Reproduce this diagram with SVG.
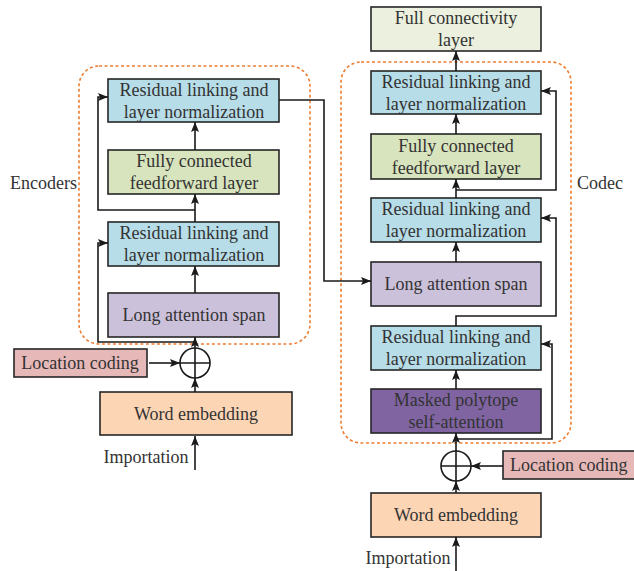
<svg xmlns="http://www.w3.org/2000/svg" width="634" height="571" viewBox="0 0 634 571">
<style>
.box{stroke:#262626;stroke-width:1.6}
.blue{fill:#b7dde8}.green{fill:#d7e4bd}.lav{fill:#ccc1da}.purple{fill:#8064a2}.peach{fill:#fcd5b5}.pink{fill:#e6b9b8}.pale{fill:#ebf1de}
text{font-family:"Liberation Serif","Times New Roman",serif;font-size:18px;fill:#333;text-anchor:middle}
.lbl{text-anchor:start}
.dash{fill:none;stroke:#ed7d31;stroke-width:1.6;stroke-dasharray:3,2.5}
.c{fill:none;stroke:#1a1a1a;stroke-width:1.6}
</style>
<defs>
<marker id="ah" markerUnits="userSpaceOnUse" markerWidth="10" markerHeight="10" viewBox="0 0 10 10" refX="10" refY="5" orient="auto">
<path d="M0,1 L10,5 L0,9 L2,5 Z" fill="#1a1a1a"/>
</marker>
</defs>

<rect class="dash" x="79" y="66" width="231" height="278" rx="20"/>
<rect class="dash" x="341" y="62" width="230" height="381" rx="20"/>
<text class="lbl" x="10" y="189">Encoders</text>
<text class="lbl" x="577" y="189">Codec</text>

<g id="enc-rln-top"><rect class="box blue" x="108" y="79" width="171" height="43"/><text x="194" y="96">Residual linking and</text><text x="194" y="118">layer normalization</text></g>
<g id="enc-ff"><rect class="box green" x="108" y="150" width="171" height="44"/><text x="194" y="167">Fully connected</text><text x="194" y="189">feedforward layer</text></g>
<g id="enc-rln-bot"><rect class="box blue" x="108" y="222" width="171" height="44"/><text x="194" y="239">Residual linking and</text><text x="194" y="261">layer normalization</text></g>
<g id="enc-las"><rect class="box lav" x="108" y="293" width="171" height="44"/><text x="194" y="321">Long attention span</text></g>
<g id="enc-loc"><rect class="box pink" x="14" y="349" width="133" height="28"/><text x="80" y="369">Location coding</text></g>
<g id="enc-plus"><circle class="c" cx="195" cy="363" r="15"/><path class="c" d="M180,363 H210 M195,348 V378"/></g>
<g id="enc-we"><rect class="box peach" x="100" y="392" width="192" height="43"/><text x="196" y="420">Word embedding</text></g>
<g id="enc-in"><text x="146" y="463">Importation</text></g>

<g id="dec-fcl"><rect class="box pale" x="371" y="7" width="170" height="44"/><text x="456" y="24">Full connectivity</text><text x="456" y="46">layer</text></g>
<g id="dec-rln-top"><rect class="box blue" x="371" y="71" width="170" height="43"/><text x="456" y="88">Residual linking and</text><text x="456" y="110">layer normalization</text></g>
<g id="dec-ff"><rect class="box green" x="371" y="134" width="170" height="45"/><text x="456" y="152">Fully connected</text><text x="456" y="174">feedforward layer</text></g>
<g id="dec-rln-mid"><rect class="box blue" x="371" y="198" width="170" height="44"/><text x="456" y="215">Residual linking and</text><text x="456" y="237">layer normalization</text></g>
<g id="dec-las"><rect class="box lav" x="371" y="262" width="170" height="44"/><text x="456" y="290">Long attention span</text></g>
<g id="dec-rln-bot"><rect class="box blue" x="371" y="326" width="170" height="44"/><text x="456" y="343">Residual linking and</text><text x="456" y="365">layer normalization</text></g>
<g id="dec-mask"><rect class="box purple" x="371" y="389" width="170" height="44"/><text x="456" y="406">Masked polytope</text><text x="456" y="428">self-attention</text></g>
<g id="dec-plus"><circle class="c" cx="456" cy="466" r="15"/><path class="c" d="M441,466 H471 M456,451 V481"/></g>
<g id="dec-loc"><rect class="box pink" x="503" y="451" width="140" height="28"/><text class="lbl" x="510" y="471">Location coding</text></g>
<g id="dec-we"><rect class="box peach" x="371" y="493" width="170" height="44"/><text x="456" y="521">Word embedding</text></g>
<g id="dec-in"><text x="408" y="564">Importation</text></g>

<g id="connectors">
<path class="c" d="M195,470 V436" marker-end="url(#ah)"/>
<path class="c" d="M195,392 V378" marker-end="url(#ah)"/>
<path class="c" d="M149,363 H180" marker-end="url(#ah)"/>
<path class="c" d="M195,348 V337" marker-end="url(#ah)"/>
<path class="c" d="M195,342 H98 V243 H108" marker-end="url(#ah)"/>
<path class="c" d="M195,293 V266" marker-end="url(#ah)"/>
<path class="c" d="M195,222 V194" marker-end="url(#ah)"/>
<path class="c" d="M195,210 H98 V97 H108" marker-end="url(#ah)"/>
<path class="c" d="M195,150 V122" marker-end="url(#ah)"/>
<path class="c" d="M279,100 H324 V281 H371" marker-end="url(#ah)"/>

<path class="c" d="M456,571 V537" marker-end="url(#ah)"/>
<path class="c" d="M456,493 V481" marker-end="url(#ah)"/>
<path class="c" d="M503,466 H471" marker-end="url(#ah)"/>
<path class="c" d="M456,451 V433" marker-end="url(#ah)"/>
<path class="c" d="M456,439 H552 V344 H541" marker-end="url(#ah)"/>
<path class="c" d="M456,389 V370" marker-end="url(#ah)"/>
<path class="c" d="M456,326 V316 H556 V218 H541" marker-end="url(#ah)"/>
<path class="c" d="M456,262 V242" marker-end="url(#ah)"/>
<path class="c" d="M456,198 V179" marker-end="url(#ah)"/>
<path class="c" d="M456,190 H556 V91 H541" marker-end="url(#ah)"/>
<path class="c" d="M456,134 V114" marker-end="url(#ah)"/>
<path class="c" d="M456,71 V51" marker-end="url(#ah)"/>
</g>
</svg>
